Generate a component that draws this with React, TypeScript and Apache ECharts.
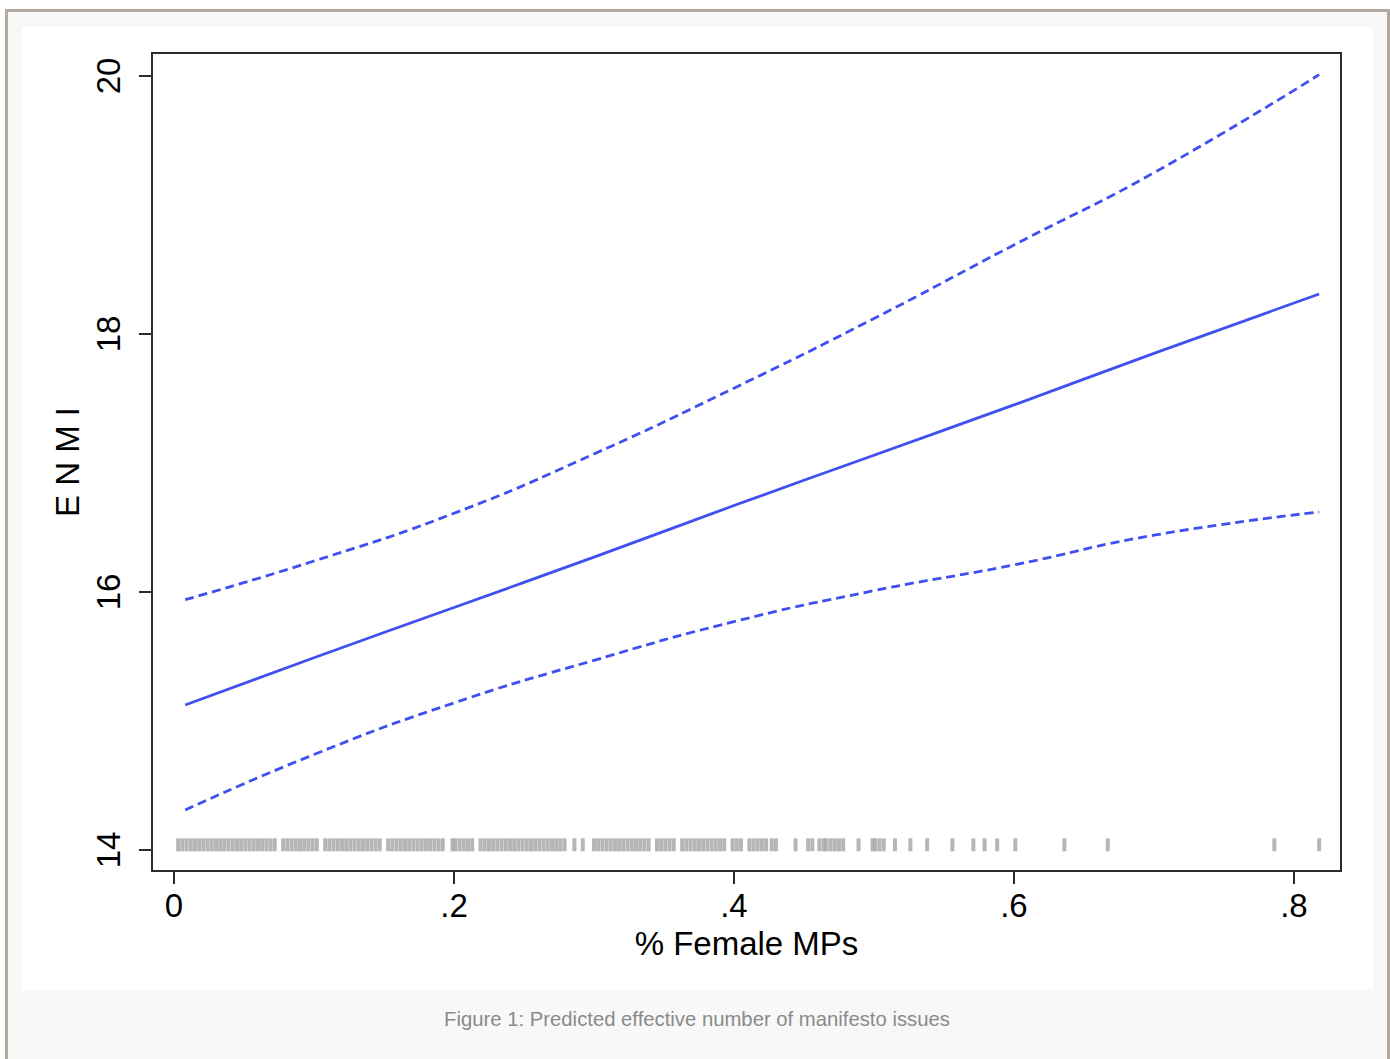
import React, { useEffect, useRef } from "react";
import * as echarts from "echarts";

const xTicks = [0, 0.2, 0.4, 0.6, 0.8];
const xTickLabels = ["0", ".2", ".4", ".6", ".8"];
const yTicks = [14, 16, 18, 20];

const xs = [0.008, 0.1, 0.2, 0.3, 0.4, 0.5, 0.6, 0.7, 0.818];
const predicted = [15.124, 15.49, 15.88, 16.27, 16.67, 17.06, 17.45, 17.85, 18.31];
const upperCI = [15.94, 16.24, 16.61, 17.07, 17.58, 18.12, 18.69, 19.25, 20.01];
const lowerCI = [14.31, 14.74, 15.14, 15.47, 15.77, 16.01, 16.21, 16.44, 16.62];

const rugX = [
  0.003, 0.006, 0.009, 0.012, 0.015, 0.018, 0.021, 0.024, 0.027, 0.03, 0.033, 0.036,
  0.039, 0.042, 0.045, 0.048, 0.051, 0.054, 0.057, 0.06, 0.063, 0.066, 0.069, 0.072,
  0.078, 0.081, 0.084, 0.087, 0.09, 0.093, 0.096, 0.099, 0.102, 0.108, 0.111, 0.114,
  0.117, 0.12, 0.123, 0.126, 0.129, 0.132, 0.135, 0.138, 0.141, 0.144, 0.147, 0.153,
  0.156, 0.159, 0.162, 0.165, 0.168, 0.171, 0.174, 0.177, 0.18, 0.183, 0.186, 0.189,
  0.192, 0.199, 0.201, 0.204, 0.207, 0.21, 0.213, 0.219, 0.222, 0.225, 0.228, 0.231,
  0.234, 0.237, 0.24, 0.243, 0.246, 0.249, 0.252, 0.255, 0.258, 0.261, 0.264, 0.267,
  0.27, 0.273, 0.276, 0.279, 0.286, 0.292, 0.3, 0.303, 0.306, 0.309, 0.312, 0.315,
  0.318, 0.321, 0.324, 0.327, 0.33, 0.333, 0.336, 0.339, 0.345, 0.348, 0.351, 0.354,
  0.357, 0.363, 0.366, 0.369, 0.372, 0.375, 0.378, 0.381, 0.384, 0.387, 0.39, 0.393,
  0.399, 0.402, 0.405, 0.411, 0.414, 0.417, 0.42, 0.423, 0.427, 0.43, 0.444, 0.453,
  0.456, 0.461, 0.464, 0.466, 0.469, 0.472, 0.475, 0.478, 0.489, 0.499, 0.501, 0.504,
  0.507, 0.515, 0.526, 0.538, 0.556, 0.571, 0.579, 0.588, 0.601, 0.636, 0.667, 0.786,
  0.818,
];
const rugLevel = 14.04;

const caption = "Figure 1: Predicted effective number of manifesto issues";
const xTitle = "% Female MPs";
const yTitle = "E N M I";

const FONT = "'Liberation Sans', Arial, Helvetica, sans-serif";
const BLUE = "#3f4ff0";

export default function App() {
  const ref = useRef<HTMLDivElement>(null);
  useEffect(() => {
    if (!ref.current) return;
    const chart = echarts.init(ref.current, null, { renderer: "svg" });
    const toPairs = (ys: number[]) => xs.map((x, i) => [x, ys[i]]);
    chart.setOption({
      animation: false,
      backgroundColor: "transparent",
      graphic: [
        {
          type: "rect",
          z: -10,
          shape: { x: 6.5, y: 10.5, width: 1382, height: 1060 },
          style: { fill: "#f8f8f8", stroke: "#b5aa9f", lineWidth: 3 },
          silent: true,
        },
        {
          type: "rect",
          z: -9,
          shape: { x: 22, y: 27, width: 1351, height: 963 },
          style: { fill: "#ffffff" },
          silent: true,
        },
        {
          type: "text",
          z: 5,
          x: 697,
          y: 1019,
          style: {
            text: caption,
            fill: "#8a8a8a",
            font: `20.3px ${FONT}`,
            align: "center",
            verticalAlign: "middle",
          },
        },
      ],
      grid: {
        left: 152,
        top: 53,
        width: 1189,
        height: 818,
        show: true,
        borderColor: "#2b2b2b",
        borderWidth: 2,
        backgroundColor: "transparent",
      },
      xAxis: {
        type: "value",
        min: -0.0157,
        max: 0.8336,
        name: xTitle,
        nameLocation: "middle",
        nameGap: 54,
        nameTextStyle: { fontSize: 33, color: "#000", fontFamily: FONT },
        axisLine: { show: true, onZero: false, lineStyle: { color: "#2b2b2b", width: 2 } },
        axisTick: {
          show: true,
          length: 13,
          customValues: xTicks,
          lineStyle: { color: "#2b2b2b", width: 2 },
        },
        axisLabel: {
          customValues: xTicks,
          fontSize: 33,
          color: "#000",
          fontFamily: FONT,
          margin: 18,
          formatter: (v: number) => {
            const i = xTicks.findIndex((t) => Math.abs(t - v) < 1e-9);
            return i >= 0 ? xTickLabels[i] : "";
          },
        },
        splitLine: { show: false },
      },
      yAxis: {
        type: "value",
        min: 13.837,
        max: 20.178,
        name: yTitle,
        nameLocation: "middle",
        nameGap: 60,
        nameTextStyle: { fontSize: 33, color: "#000", fontFamily: FONT },
        axisLine: { show: true, onZero: false, lineStyle: { color: "#2b2b2b", width: 2 } },
        axisTick: {
          show: true,
          length: 13,
          customValues: yTicks,
          lineStyle: { color: "#2b2b2b", width: 2 },
        },
        axisLabel: {
          customValues: yTicks,
          rotate: 90,
          fontSize: 33,
          color: "#000",
          fontFamily: FONT,
          margin: 44,
          align: "center",
          verticalAlign: "middle",
        },
        splitLine: { show: false },
      },
      series: [
        {
          type: "scatter",
          data: rugX.map((x) => [x, rugLevel]),
          symbol: "rect",
          symbolSize: [4, 13],
          itemStyle: { color: "#a4a4a4" },
          silent: true,
          z: 1,
        },
        {
          type: "line",
          data: toPairs(predicted),
          smooth: true,
          showSymbol: false,
          lineStyle: { color: BLUE, width: 2.8 },
          z: 3,
        },
        {
          type: "line",
          data: toPairs(upperCI),
          smooth: true,
          showSymbol: false,
          lineStyle: { color: BLUE, width: 2.8, type: [9, 5] },
          z: 3,
        },
        {
          type: "line",
          data: toPairs(lowerCI),
          smooth: true,
          showSymbol: false,
          lineStyle: { color: BLUE, width: 2.8, type: [9, 5] },
          z: 3,
        },
      ],
    });
    return () => chart.dispose();
  }, []);
  return (
    <div
      ref={ref}
      style={{ position: "absolute", left: 0, top: 0, width: 1390, height: 1059 }}
    />
  );
}
